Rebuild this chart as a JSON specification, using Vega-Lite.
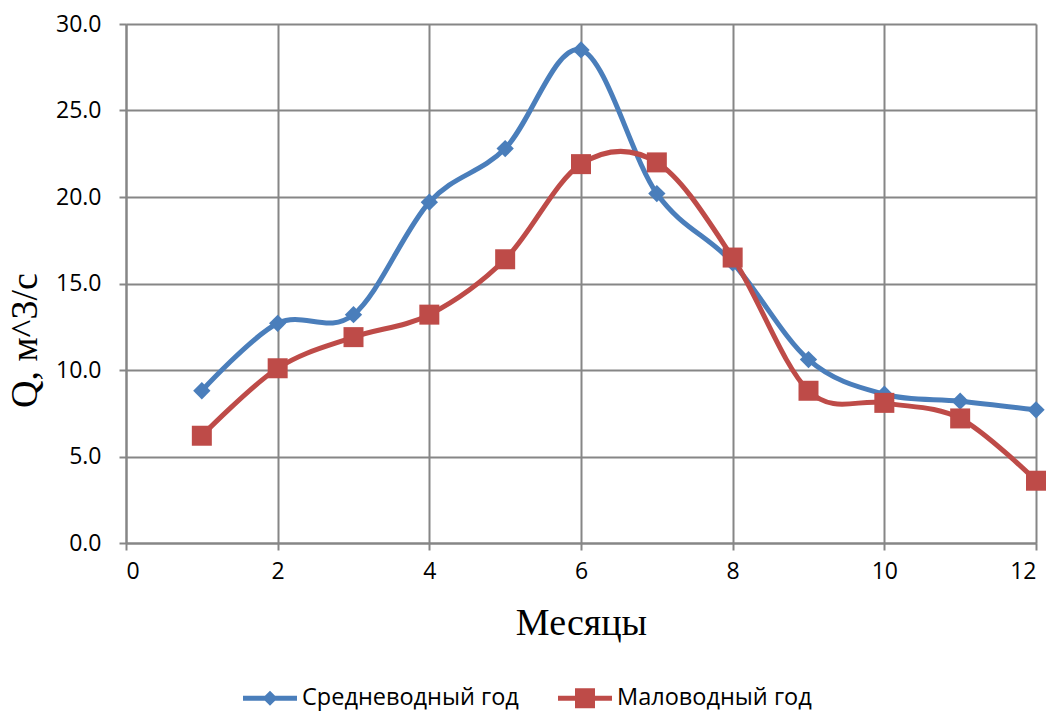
{
  "$schema": "https://vega.github.io/schema/vega-lite/v6.json",
  "width": 910,
  "height": 519,
  "autosize": {"type": "none"},
  "padding": {"left": 126, "top": 24, "right": 16, "bottom": 169},
  "background": "white",
  "data": {
    "values": [
      {"month": 1, "q": 8.8, "series": "Средневодный год"},
      {"month": 2, "q": 12.7, "series": "Средневодный год"},
      {"month": 3, "q": 13.2, "series": "Средневодный год"},
      {"month": 4, "q": 19.7, "series": "Средневодный год"},
      {"month": 5, "q": 22.8, "series": "Средневодный год"},
      {"month": 6, "q": 28.5, "series": "Средневодный год"},
      {"month": 7, "q": 20.2, "series": "Средневодный год"},
      {"month": 8, "q": 16.2, "series": "Средневодный год"},
      {"month": 9, "q": 10.6, "series": "Средневодный год"},
      {"month": 10, "q": 8.6, "series": "Средневодный год"},
      {"month": 11, "q": 8.2, "series": "Средневодный год"},
      {"month": 12, "q": 7.7, "series": "Средневодный год"},
      {"month": 1, "q": 6.2, "series": "Маловодный год"},
      {"month": 2, "q": 10.1, "series": "Маловодный год"},
      {"month": 3, "q": 11.9, "series": "Маловодный год"},
      {"month": 4, "q": 13.2, "series": "Маловодный год"},
      {"month": 5, "q": 16.4, "series": "Маловодный год"},
      {"month": 6, "q": 21.9, "series": "Маловодный год"},
      {"month": 7, "q": 22.0, "series": "Маловодный год"},
      {"month": 8, "q": 16.5, "series": "Маловодный год"},
      {"month": 9, "q": 8.8, "series": "Маловодный год"},
      {"month": 10, "q": 8.1, "series": "Маловодный год"},
      {"month": 11, "q": 7.2, "series": "Маловодный год"},
      {"month": 12, "q": 3.6, "series": "Маловодный год"}
    ]
  },
  "config": {
    "view": {"stroke": null},
    "axis": {
      "labelFont": "Open Sans",
      "labelFontSize": 23,
      "labelColor": "#000000",
      "gridColor": "#868686",
      "gridWidth": 2,
      "gridOpacity": 1,
      "domainColor": "#868686",
      "domainWidth": 2,
      "tickColor": "#868686",
      "tickWidth": 2,
      "tickSize": 7,
      "titleFont": "Liberation Serif",
      "titleFontWeight": "normal",
      "titleColor": "#000000"
    }
  },
  "encoding": {
    "x": {
      "field": "month",
      "type": "quantitative",
      "scale": {"domain": [0, 12], "nice": false, "zero": false},
      "axis": {
        "values": [0, 2, 4, 6, 8, 10, 12],
        "format": "d",
        "labelPadding": 10,
        "title": "Месяцы",
        "titleFontSize": 38,
        "titleX": 455,
        "titleY": 80,
        "titleBaseline": "middle",
        "titleAlign": "center"
      }
    },
    "y": {
      "field": "q",
      "type": "quantitative",
      "scale": {"domain": [0, 30], "nice": false},
      "axis": {
        "values": [0, 5, 10, 15, 20, 25, 30],
        "format": ".1f",
        "labelPadding": 18,
        "title": "Q, м^3/с",
        "titleFontSize": 38,
        "titleAngle": -90,
        "titleX": -101,
        "titleY": 316,
        "titleBaseline": "middle",
        "titleAlign": "center"
      }
    }
  },
  "layer": [
    {
      "mark": {"type": "line", "interpolate": "cardinal", "strokeWidth": 5},
      "encoding": {
        "color": {
          "field": "series",
          "type": "nominal",
          "scale": {"domain": ["Средневодный год", "Маловодный год"], "range": ["#4A7EBB", "#BE4B48"]},
          "legend": {
            "title": null,
            "orient": "none",
            "direction": "horizontal",
            "legendX": 117,
            "legendY": 647,
            "labelFont": "Open Sans",
            "labelFontSize": 23.5,
            "labelColor": "#000000",
            "labelLimit": 0,
            "labelOffset": 5,
            "columnPadding": 39,
            "symbolSize": 2916,
            "symbolStrokeWidth": 0,
            "encode": {
              "symbols": {
                "update": {
                  "shape": {"signal": "datum.value === 'Средневодный год' ? 'M-1,-0.093L1,-0.093L1,0.093L-1,0.093Z M0,-0.28L0.28,0L0,0.28L-0.28,0Z' : 'M-1,-0.093L1,-0.093L1,0.093L-1,0.093Z M-0.37,-0.37L0.37,-0.37L0.37,0.37L-0.37,0.37Z'"},
                  "fill": {"signal": "datum.value === 'Средневодный год' ? '#4A7EBB' : '#BE4B48'"},
                  "stroke": {"value": null},
                  "size": {"value": 2916},
                  "strokeWidth": {"value": 0},
                  "opacity": {"value": 1},
                  "fillOpacity": {"value": 1}
                }
              }
            }
          }
        }
      }
    },
    {
      "transform": [{"filter": "datum.series === 'Средневодный год'"}],
      "mark": {"type": "point", "filled": true, "opacity": 1, "shape": "diamond", "size": 300, "color": "#4A7EBB"}
    },
    {
      "transform": [{"filter": "datum.series === 'Маловодный год'"}],
      "mark": {"type": "point", "filled": true, "opacity": 1, "shape": "square", "size": 400, "color": "#BE4B48"}
    }
  ]
}
